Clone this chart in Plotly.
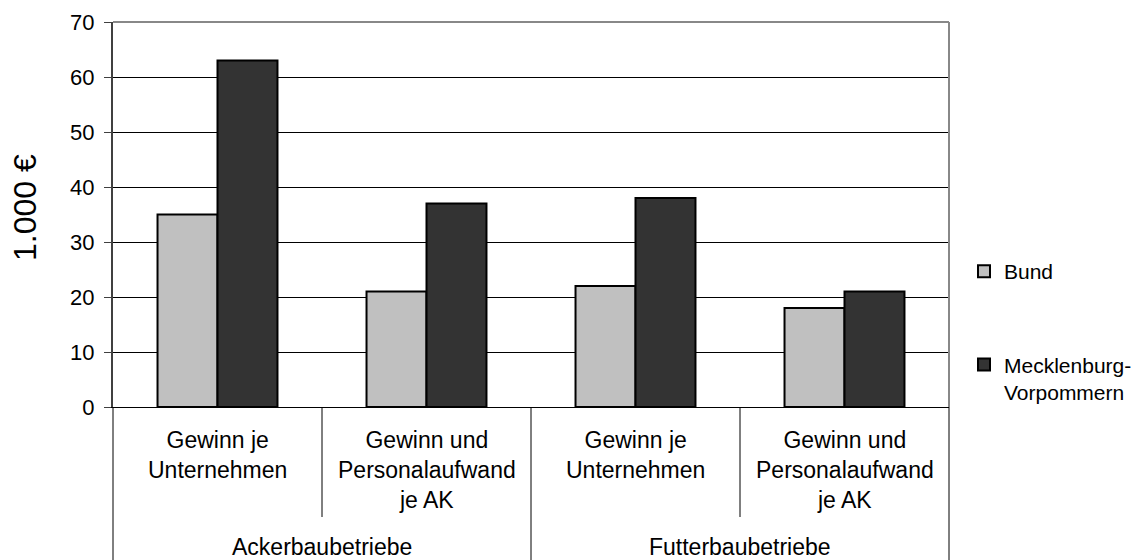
import plotly.graph_objects as go

# ---- data ----
sub_categories = ["Gewinn je<br>Unternehmen",
                  "Gewinn und<br>Personalaufwand<br>je AK",
                  "Gewinn je<br>Unternehmen",
                  "Gewinn und<br>Personalaufwand<br>je AK"]
groups = ["Ackerbaubetriebe", "Futterbaubetriebe"]
cat_ids = ["A1", "A2", "F1", "F2"]
bund = [35, 21, 22, 18]
mv = [63, 37, 38, 21]
y_ticks = [0, 10, 20, 30, 40, 50, 60, 70]
y_title = "1.000 €"

FONT = "Liberation Sans, Arial, sans-serif"
W, H = 1143, 560
ML, MR, MT, MB = 113, 194, 22, 153
PH = H - MT - MB

def py(pix):
    """pixel row -> paper y"""
    return (H - MB - pix) / PH

def px(pix):
    return (pix - ML) / (W - ML - MR)

fig = go.Figure()
fig.add_trace(go.Bar(x=cat_ids, y=bund, name="Bund", legendgroup="b",
                     marker=dict(color="#c0c0c0", line=dict(color="black", width=2))))
fig.add_trace(go.Bar(x=cat_ids, y=mv, name="Mecklenburg-<br>Vorpommern", legendgroup="m",
                     marker=dict(color="#333333", line=dict(color="black", width=2))))

shapes = []
# top and right border of plot area (gray)
shapes.append(dict(type="line", xref="paper", yref="paper", x0=0, x1=1, y0=1, y1=1,
                   line=dict(color="#888888", width=2)))
shapes.append(dict(type="line", xref="paper", yref="paper", x0=1, x1=1, y0=0, y1=1,
                   line=dict(color="#888888", width=2)))
# category table lines below the axis
bottom = py(H + 5)
shapes.append(dict(type="line", xref="paper", yref="paper", x0=0, x1=0, y0=0, y1=bottom,
                   line=dict(color="black", width=1)))
shapes.append(dict(type="line", xref="paper", yref="paper", x0=1, x1=1, y0=0, y1=bottom,
                   line=dict(color="black", width=1)))
shapes.append(dict(type="line", xref="x", yref="paper", x0=1.5, x1=1.5, y0=0, y1=bottom,
                   line=dict(color="black", width=1)))
for xv in (0.5, 2.5):
    shapes.append(dict(type="line", xref="x", yref="paper", x0=xv, x1=xv, y0=0, y1=py(517),
                       line=dict(color="black", width=1)))

annotations = []
for i, lab in enumerate(sub_categories):
    annotations.append(dict(x=i, xref="x", y=py(425), yref="paper", text=lab,
                            showarrow=False, xanchor="center", yanchor="top",
                            align="center", font=dict(size=23, color="black", family=FONT)))
for j, g in enumerate(groups):
    annotations.append(dict(x=0.5 + 2 * j, xref="x", y=py(547), yref="paper", text=g,
                            showarrow=False, xanchor="center", yanchor="middle",
                            font=dict(size=23, color="black", family=FONT)))
annotations.append(dict(x=px(25), xref="paper", y=py(208), yref="paper", text=y_title,
                        textangle=-90, showarrow=False, xanchor="center", yanchor="middle",
                        font=dict(size=32, color="black", family=FONT)))

fig.update_layout(
    width=W, height=H,
    margin=dict(l=ML, r=MR, t=MT, b=MB, autoexpand=False),
    paper_bgcolor="white", plot_bgcolor="white",
    font=dict(family=FONT, color="black", size=22),
    barmode="group", bargap=0.426, bargroupgap=0,
    showlegend=True,
    legend=dict(x=px(964), xanchor="left", y=py(251), yanchor="top",
                font=dict(size=21, family=FONT, color="black"),
                tracegroupgap=63, valign="top", itemwidth=30,
                bgcolor="rgba(0,0,0,0)"),
    shapes=shapes, annotations=annotations,
)
fig.update_xaxes(type="category", categoryorder="array", categoryarray=cat_ids,
                 range=[-0.5, 3.5], showticklabels=False, ticks="",
                 showline=True, linecolor="black", linewidth=1, showgrid=False, zeroline=False)
fig.update_yaxes(range=[0, 70], tickvals=y_ticks, ticks="outside", ticklen=7,
                 tickcolor="#404040", tickwidth=1, ticklabelstandoff=5,
                 tickfont=dict(size=22, family=FONT, color="black"),
                 showline=True, linecolor="#404040", linewidth=2,
                 showgrid=True, gridcolor="black", gridwidth=1, zeroline=False)

fig.write_html("out.html", config={"displayModeBar": False},
               post_script="document.body.style.margin='0';document.body.style.padding='0';")
